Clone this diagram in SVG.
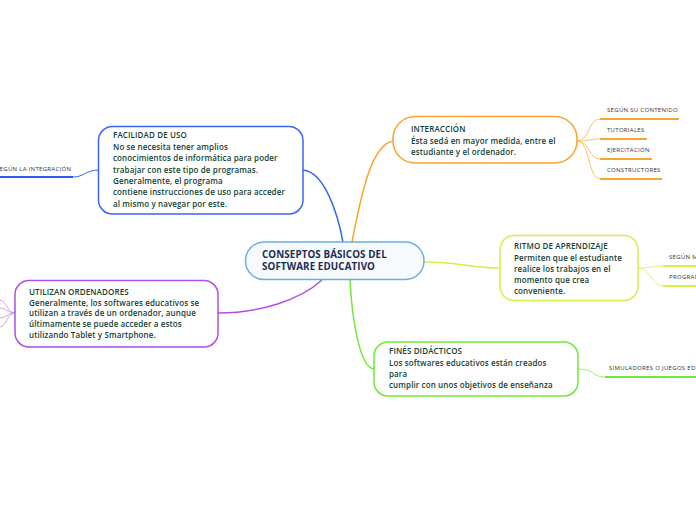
<svg xmlns="http://www.w3.org/2000/svg" width="696" height="520" viewBox="0 0 696 520">
<style>
  .t { font-family: "Open Sans", "Noto Sans", "DejaVu Sans", sans-serif; font-size: 8px; font-weight: 600; letter-spacing: 0.12px; fill: #143f33; }
  .c { font-family: "Open Sans", "Noto Sans", "DejaVu Sans", sans-serif; font-size: 9.8px; font-weight: 700; letter-spacing: 0.1px; fill: #1c2d55; }
  .s { font-family: "Open Sans", "Noto Sans", "DejaVu Sans", sans-serif; font-size: 6px; font-weight: 400; letter-spacing: 0.3px; fill: #333333; }
  .n { fill: #ffffff; stroke-width: 1.5; }
  .w { fill: none; stroke-width: 1.5; }
  .u { fill: none; stroke-width: 1; }
  .ul { fill: none; stroke-width: 2; }
</style>
<rect width="696" height="520" fill="#ffffff"/>
<g id="connectors">
  <path class="w" stroke="#3a66f0" d="M303,170 C325,172 338,215 343,242"/>
  <path class="w" stroke="#f7a52e" d="M352,242 C362,190 372,145 393,141"/>
  <path class="w" stroke="#d6f04a" d="M424,262 C460,262 470,268 500,268"/>
  <path class="w" stroke="#70e83a" d="M350,280 C352,320 360,368 374,369"/>
  <path class="w" stroke="#b04ee8" d="M322,280 C300,300 260,313 218,313"/>
  <path class="u" stroke="#3a66f0" d="M99,170 C86,170 84,177 73,177"/>
  <path class="ul" stroke="#2d5df0" d="M73,177 L0,177"/>
  <path class="u" stroke="#f9c46b" d="M577,141 C590,141 588,119 600,119"/>
  <path class="u" stroke="#f9c46b" d="M577,141 C590,141 588,139 600,139"/>
  <path class="u" stroke="#f9c46b" d="M577,141 C590,141 588,159 600,159"/>
  <path class="u" stroke="#f9c46b" d="M577,141 C590,141 588,179 600,179"/>
  <path class="ul" stroke="#f7a52e" d="M600,119 L679,119 M600,139 L647,139 M600,159 L652,159 M600,179 L662,179"/>
  <path class="u" stroke="#dff27a" d="M638,268 C650,268 652,266 663,266 M638,268 C650,268 652,286 663,286"/>
  <path class="ul" stroke="#d6f04a" d="M663,266 L696,266 M663,286 L696,286"/>
  <path class="u" stroke="#9cf06a" d="M578,369 C595,369 592,377 605,377"/>
  <path class="ul" stroke="#70e83a" d="M605,377 L696,377"/>
  <path class="u" stroke="#d49af2" d="M15,313 C8,313 6,301 0,300 M15,313 C8,313 6,308 0,308 M15,313 C8,313 6,318 0,318 M15,313 C8,313 6,326 0,327"/>
</g>
<g id="central">
  <rect x="245.5" y="242" width="178.5" height="37.5" rx="18.5" fill="#f6fafd" stroke="#6aaee2" stroke-width="1.5"/>
  <text class="c" x="262" y="257.5">CONSEPTOS BÁSICOS DEL</text>
  <text class="c" x="262" y="270">SOFTWARE EDUCATIVO</text>
</g>
<g id="facilidad">
  <rect class="n" stroke="#3a66f0" x="98.5" y="126.5" width="204.5" height="87.5" rx="14"/>
  <text class="t" x="113" y="138.3">FACILIDAD DE USO</text>
  <text class="t" x="113" y="149.8">No se necesita tener amplios</text>
  <text class="t" x="113" y="161.3">conocimientos de informática para poder</text>
  <text class="t" x="113" y="172.7">trabajar con este tipo de programas.</text>
  <text class="t" x="113" y="184">Generalmente, el programa</text>
  <text class="t" x="113" y="195.3">contiene instrucciones de uso para acceder</text>
  <text class="t" x="113" y="206.5">al mismo y navegar por este.</text>
</g>
<g id="segun-integracion">
  <text class="s" x="-4" y="170.7">SEGÚN LA INTEGRACIÓN</text>
</g>
<g id="interaccion">
  <rect class="n" stroke="#f7a52e" x="393" y="116.5" width="184" height="46.5" rx="22"/>
  <text class="t" x="411" y="132.3">INTERACCIÓN</text>
  <text class="t" x="411" y="144">Ésta sedá en mayor medida, entre el</text>
  <text class="t" x="411" y="155.3">estudiante y el ordenador.</text>
</g>
<g id="segun-contenido"><text class="s" x="607" y="111.7">SEGÚN SU CONTENIDO</text></g>
<g id="tutoriales"><text class="s" x="607" y="131.7">TUTORIALES</text></g>
<g id="ejercitacion"><text class="s" x="607" y="151.7">EJERCITACIÓN</text></g>
<g id="constructores"><text class="s" x="607" y="171.7">CONSTRUCTORES</text></g>
<g id="ritmo">
  <rect class="n" stroke="#d6f04a" x="500" y="235.5" width="138" height="65" rx="14"/>
  <text class="t" x="514" y="249.3">RITMO DE APRENDIZAJE</text>
  <text class="t" x="514" y="260.5">Permiten que el estudiante</text>
  <text class="t" x="514" y="271.7">realice los trabajos en el</text>
  <text class="t" x="514" y="282.7">momento que crea</text>
  <text class="t" x="514" y="293.5">conveniente.</text>
</g>
<g id="segun-m"><text class="s" x="669" y="259.3">SEGÚN M</text></g>
<g id="program"><text class="s" x="669" y="279.3">PROGRAM</text></g>
<g id="fines">
  <rect class="n" stroke="#70e83a" x="374" y="342" width="204" height="54" rx="14"/>
  <text class="t" x="389" y="354.3">FINÉS DIDÁCTICOS</text>
  <text class="t" x="389" y="366">Los softwares educativos están creados</text>
  <text class="t" x="389" y="377">para</text>
  <text class="t" x="389" y="388.3">cumplir con unos objetivos de enseñanza</text>
</g>
<g id="simuladores"><text class="s" x="609" y="369.5">SIMULADORES O JUEGOS EDUC</text></g>
<g id="utilizan">
  <rect class="n" stroke="#b04ee8" x="15" y="280.5" width="203" height="66.5" rx="14"/>
  <text class="t" x="29" y="294.5">UTILIZAN ORDENADORES</text>
  <text class="t" x="29" y="305.5">Generalmente, los softwares educativos se</text>
  <text class="t" x="29" y="316.3">utilizan a través de un ordenador, aunque</text>
  <text class="t" x="29" y="327">últimamente se puede acceder a estos</text>
  <text class="t" x="29" y="337.8">utilizando Tablet y Smartphone.</text>
</g>
</svg>
